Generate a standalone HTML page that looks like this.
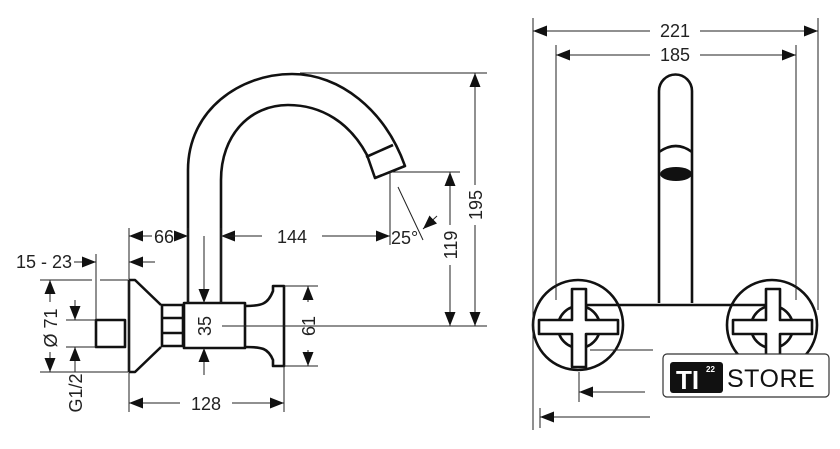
<!DOCTYPE html>
<html><head><style>body{margin:0;background:#fff}svg{display:block}text{font-family:"Liberation Sans",sans-serif;font-size:18px;fill:#222}</style></head><body>
<svg width="840" height="449" viewBox="0 0 840 449" xmlns="http://www.w3.org/2000/svg">
<defs>
<marker id="a" viewBox="0 0 14 12" refX="14" refY="6" markerWidth="14" markerHeight="12" markerUnits="userSpaceOnUse" orient="auto-start-reverse"><path d="M0,0.5 L14,6 L0,11.5z" fill="#111"/></marker>
</defs>
<g fill="none" stroke="#111" stroke-width="2.6" stroke-linejoin="round">
<path d="M188,303 L188,170 C188,110 240,74 292,74 C340,74 385,110 405,166 L375,178 L367,155 C350,123 322,105 288,105 C250,105 221,135 221,180 L221,303"/>
<path d="M366,157 L393,145"/>
<rect x="184" y="303" width="61" height="45"/>
<rect x="162" y="305" width="21" height="41"/>
<path d="M162,318 H183 M162,333 H183"/>
<path d="M129,280 V372 M129,280 H135 L161,305 M129,372 H135 L161,347"/>
<rect x="96" y="320" width="29" height="27"/>
<path d="M245,306 C262,306 268,304 273,291 V286 H284 V366 H273 V360 C268,348 262,347 245,347"/>
<path d="M659,303 V91 A16.5,16.5 0 0 1 692,91 V303"/>
<path d="M659,152 Q676,140 692,152"/>
<path d="M587,305 H766"/>
<circle cx="578" cy="325" r="45"/>
<circle cx="772" cy="325" r="45"/>
<circle cx="579" cy="327" r="21"/>
<circle cx="772" cy="327" r="21"/>
<path d="M572,289 H586 V320 H618 V334 H586 V367 H572 V334 H539 V320 H572Z" fill="#fff"/>
<path d="M766,289 H780 V320 H812 V334 H780 V367 H766 V334 H733 V320 H766Z" fill="#fff"/>
</g>
<ellipse cx="676" cy="174" rx="16" ry="7" fill="#111"/>
<g fill="none" stroke="#222" stroke-width="1">
<path d="M129,228 V412 M188,228 V303 M221,228 V303 M284,366 V412 M96,254 V320"/>
<path d="M40,280 H92 M100,280 H128 M40,372 H128 M66,320 H96 M66,347 H96"/>
<path d="M284,286 H318 M284,366 H318 M222,326 H487"/>
<path d="M300,73 H487 M390,172 H460 M390,172 V245 M398,187 L423,240"/>
<path d="M533,18 V430 M556,45 V300 M796,45 V300 M818,18 V310 M579,372 V402"/>
<path d="M590,350 H653"/>
<path d="M152,236 H129" marker-end="url(#a)"/>
<path d="M178,236 H188" marker-end="url(#a)"/>
<path d="M236,236 H221" marker-end="url(#a)"/>
<path d="M221,236 H262 M322,236 H390"/>
<path d="M370,236 H390" marker-end="url(#a)"/>
<path d="M74,262 H96" marker-end="url(#a)"/>
<path d="M155,262 H129" marker-end="url(#a)"/>
<path d="M50,302 V280" marker-end="url(#a)"/>
<path d="M50,352 V372" marker-end="url(#a)"/>
<path d="M75,300 V320" marker-end="url(#a)"/>
<path d="M75,372 V347" marker-end="url(#a)"/>
<path d="M204,236 V303" marker-end="url(#a)"/>
<path d="M204,375 V348" marker-end="url(#a)"/>
<path d="M308,302 V286" marker-end="url(#a)"/>
<path d="M308,350 V366" marker-end="url(#a)"/>
<path d="M180,403 H129" marker-end="url(#a)"/>
<path d="M232,403 H284" marker-end="url(#a)"/>
<path d="M475,185 V73" marker-end="url(#a)"/>
<path d="M475,225 V326" marker-end="url(#a)"/>
<path d="M450,225 V172" marker-end="url(#a)"/>
<path d="M450,265 V326" marker-end="url(#a)"/>
<path d="M437,216 L423,229" marker-end="url(#a)"/>
<path d="M650,31 H533" marker-end="url(#a)"/>
<path d="M700,31 H818" marker-end="url(#a)"/>
<path d="M650,55 H556" marker-end="url(#a)"/>
<path d="M700,55 H796" marker-end="url(#a)"/>
<path d="M645,392 H579" marker-end="url(#a)"/>
<path d="M650,417 H540" marker-end="url(#a)"/>
<path d="M540,408 V428"/>
</g>
<g>
<text x="164" y="243" text-anchor="middle">66</text>
<text x="292" y="243" text-anchor="middle">144</text>
<text x="16" y="268">15 - 23</text>
<text x="391" y="244">25°</text>
<text x="206" y="410" text-anchor="middle">128</text>
<text x="675" y="37" text-anchor="middle">221</text>
<text x="675" y="61" text-anchor="middle">185</text>
<text transform="translate(57,328) rotate(-90)" text-anchor="middle">Ø 71</text>
<text transform="translate(82,393) rotate(-90)" text-anchor="middle">G1/2</text>
<text transform="translate(211,326) rotate(-90)" text-anchor="middle">35</text>
<text transform="translate(315,326) rotate(-90)" text-anchor="middle">61</text>
<text transform="translate(482,205) rotate(-90)" text-anchor="middle">195</text>
<text transform="translate(457,245) rotate(-90)" text-anchor="middle">119</text>
</g>
<rect x="663" y="354" width="166" height="43" rx="4" fill="#fff" stroke="#333" stroke-width="1.2"/>
<rect x="670" y="362" width="53" height="31" rx="3" fill="#111"/>
<text x="676" y="389" style="font-size:26px;font-weight:bold;fill:#fff">TI</text>
<text x="706" y="372" style="font-size:8px;font-weight:bold;fill:#fff">22</text>
<text x="727" y="387" style="font-size:25px;fill:#111;letter-spacing:0.5px">STORE</text>
</svg>
</body></html>
